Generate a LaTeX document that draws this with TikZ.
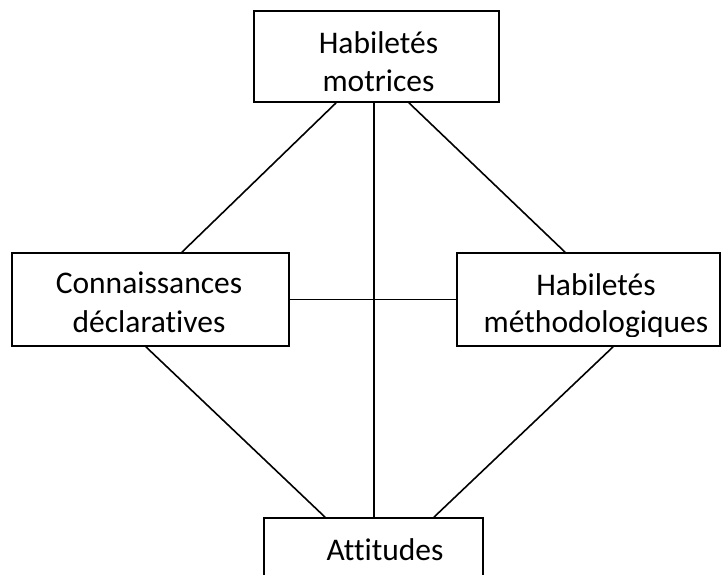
\documentclass[tikz,border=0pt]{standalone}
\usepackage{fontspec}
\setmainfont[Ligatures={NoCommon}]{Carlito}
\usetikzlibrary{calc}
\begin{document}
\begin{tikzpicture}[x=1pt,y=-1pt,
  box/.style={draw=black,line width=1.8pt,inner sep=0pt},
  link/.style={draw=black,line width=1.6pt},
  lbl/.style={anchor=base,inner sep=0pt,font=\fontsize{31.5pt}{38pt}\selectfont}]
\useasboundingbox (0,0) rectangle (722,574);
\clip (0,0) rectangle (722,574);
% boxes
\node[box,minimum width=245pt,minimum height=91pt] (top) at (376.5,56.5) {};
\node[box,minimum width=277pt,minimum height=93pt] (left) at (150.5,299.5) {};
\node[box,minimum width=263pt,minimum height=93pt] (right) at (588.5,299.5) {};
\node[box,minimum width=219pt,minimum height=100pt] (bot) at (373.5,568) {};
% texts
\node[lbl] (t1) at (378.5,53) {Habiletés};
\node[lbl] (t2) at (378.5,91) {motrices};
\node[lbl] (l1) at (149,293) {Connaissances};
\node[lbl] (l2) at (149,332) {déclaratives};
\node[lbl] (b1) at (385,560) {Attitudes};
\begin{scope}
\clip (right.north west) rectangle ($(right.south east)+(0,-10)$);
\node[lbl] (r1) at (596,295) {Habiletés};
\node[lbl] (r2) at (596,332) {méthodologiques};
\end{scope}
% connectors
\draw[link] ($(top.south)+(-40.5,0)$) -- ($(left.north)+(31.5,0)$);
\draw[link] ($(top.south)+(32.5,0)$) -- ($(right.north)+(-23.5,0)$);
\draw[link] ($(top.south)+(-2.5,0)$) -- ($(bot.north)+(0.5,0)$);
\draw[link] (left.east) -- (right.west);
\draw[link] ($(left.south)+(-4.5,0)$) -- ($(bot.north)+(-48.5,0)$);
\draw[link] ($(right.south)+(24.5,0)$) -- ($(bot.north)+(60.5,0)$);
\end{tikzpicture}
\end{document}
